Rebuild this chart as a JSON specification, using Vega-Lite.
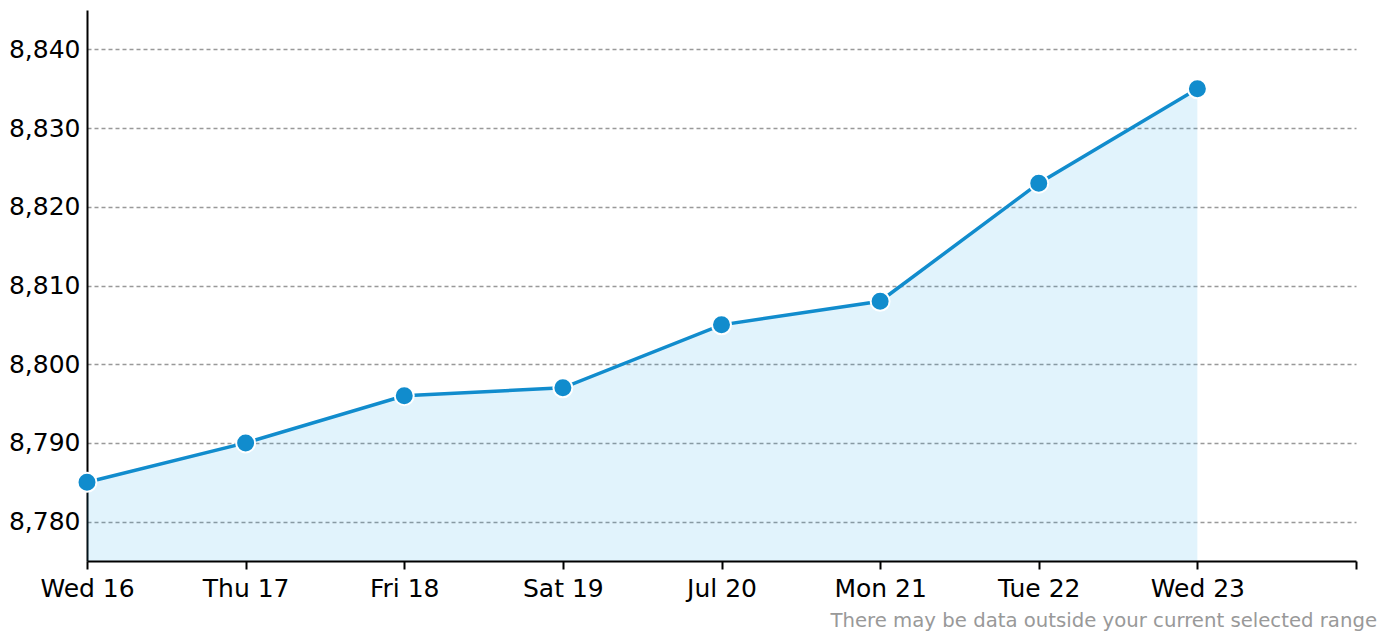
{
  "$schema": "https://vega.github.io/schema/vega-lite/v6.json",
  "autosize": "none",
  "width": 1269,
  "height": 551,
  "padding": {"left": 87, "top": 10, "right": 32, "bottom": 73},
  "background": "white",
  "config": {"view": {"stroke": null}, "font": "DejaVu Sans"},
  "title": {
    "text": "There may be data outside your current selected range",
    "orient": "bottom",
    "anchor": "end",
    "color": "#999999",
    "fontSize": 19.7,
    "fontWeight": "normal",
    "font": "DejaVu Sans",
    "dx": 20,
    "offset": 10
  },
  "data": {
    "values": [
      {"date": "2025-07-16", "value": 8785},
      {"date": "2025-07-17", "value": 8790},
      {"date": "2025-07-18", "value": 8796},
      {"date": "2025-07-19", "value": 8797},
      {"date": "2025-07-20", "value": 8805},
      {"date": "2025-07-21", "value": 8808},
      {"date": "2025-07-22", "value": 8823},
      {"date": "2025-07-23", "value": 8835}
    ]
  },
  "encoding": {
    "x": {
      "field": "date",
      "type": "temporal",
      "scale": {
        "type": "utc",
        "domain": [
          {"year": 2025, "month": 7, "date": 16, "utc": true},
          {"year": 2025, "month": 7, "date": 24, "utc": true}
        ]
      },
      "axis": {
        "title": null,
        "grid": false,
        "zindex": 1,
        "tickCount": {"interval": "day", "step": 1},
        "domainColor": "#000000",
        "domainWidth": 2,
        "tickColor": "#000000",
        "tickWidth": 2,
        "tickSize": 8,
        "labelFontSize": 25,
        "labelColor": "#000000",
        "labelPadding": 7,
        "labelFlush": false,
        "labelOverlap": false,
        "labelExpr": "datum.index < 1 ? datum.label : ''"
      }
    },
    "y": {
      "field": "value",
      "type": "quantitative",
      "scale": {"domain": [8775, 8845], "zero": false, "nice": false},
      "axis": {
        "title": null,
        "zindex": 0,
        "values": [8780, 8790, 8800, 8810, 8820, 8830, 8840],
        "format": ",d",
        "ticks": false,
        "domainColor": "#000000",
        "domainWidth": 2,
        "labelFontSize": 25,
        "labelColor": "#000000",
        "labelPadding": 7,
        "grid": true,
        "gridColor": "#999999",
        "gridDash": [4, 3],
        "gridWidth": 1.5
      }
    }
  },
  "layer": [
    {
      "mark": {"type": "area", "color": "#059be6", "opacity": 0.12},
      "encoding": {"y2": {"datum": 8775}}
    },
    {"mark": {"type": "line", "color": "#118ccd", "strokeWidth": 3.5}},
    {"mark": {"type": "point", "filled": true, "color": "#118ccd", "size": 360, "stroke": "#ffffff", "strokeWidth": 2, "opacity": 1}}
  ]
}
